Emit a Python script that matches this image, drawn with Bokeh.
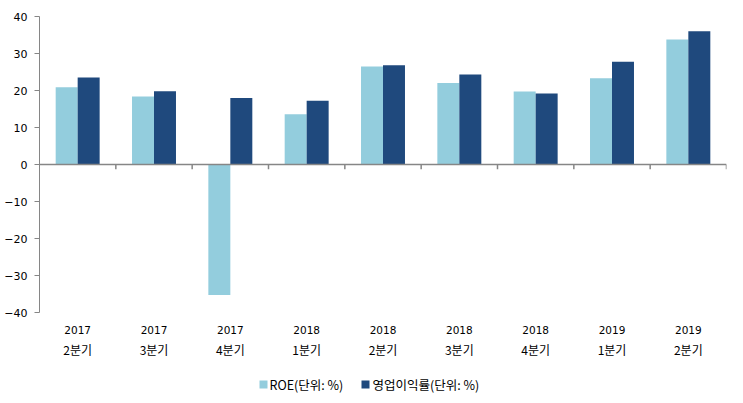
from bokeh.plotting import figure
from bokeh.models import (Range1d, ColumnDataSource, LinearAxis,
                          Span, FixedTicker)
from bokeh.layouts import column
from bokeh.core.properties import value
from bokeh.embed import file_html
from bokeh.resources import INLINE

years = ["2017", "2017", "2017", "2018", "2018", "2018", "2018", "2019", "2019"]
quarters = ["2분기", "3분기", "4분기", "1분기", "2분기", "3분기", "4분기", "1분기", "2분기"]
roe = [20.9, 18.4, -35.3, 13.6, 26.5, 22.0, 19.7, 23.3, 33.8]
opm = [23.5, 19.8, 18.0, 17.2, 26.8, 24.3, 19.2, 27.8, 36.0]
y_ticks = [-40, -30, -20, -10, 0, 10, 20, 30, 40]
legend_labels = ["ROE(단위: %)", "영업이익률(단위: %)"]

n = len(years)
centers = [i + 0.5 for i in range(n)]
src = ColumnDataSource(dict(
    x_roe=[c - 0.144 for c in centers], x_opm=[c + 0.144 for c in centers],
    roe=roe, opm=opm))

LIGHT = "#93CDDD"
DARK = "#1F497D"
GRAY = "#868686"
NUM_FONT = "DejaVu Sans, 'Noto Sans CJK KR'"
KR_FONT = "'Noto Sans CJK KR', DejaVu Sans"

W = 727
FL, FR = 39, 726  # frame left/right in pixels
p = figure(width=W, height=360, output_backend="svg", toolbar_location=None,
           x_range=Range1d(0, n), y_range=Range1d(-40, 40),
           min_border_left=FL, min_border_right=W - FR, min_border_top=16,
           min_border_bottom=47, x_axis_location=None)
p.outline_line_color = None
p.xgrid.visible = False
p.ygrid.visible = False
p.background_fill_color = "white"
p.border_fill_color = "white"

r1 = p.vbar(x="x_roe", top="roe", width=0.288, source=src, color=LIGHT, line_color=None)
r2 = p.vbar(x="x_opm", top="opm", width=0.288, source=src, color=DARK, line_color=None)

# zero line with category boundary ticks
p.add_layout(Span(location=0, dimension="width", line_color=GRAY, line_width=1.5))
bounds = list(range(1, n + 1))
p.segment(x0=bounds, x1=bounds, y0=[0] * n, y1=[-1.3] * n,
          line_color=GRAY, line_width=1.5)

# y axis
ya = p.yaxis[0]
ya.ticker = FixedTicker(ticks=y_ticks)
ya.axis_line_color = GRAY
ya.major_tick_line_color = GRAY
ya.major_tick_out = 5
ya.major_tick_in = 0
ya.minor_tick_line_color = None
ya.major_label_text_font = NUM_FONT
ya.major_label_text_font_size = "11px"
ya.major_label_text_color = "black"
ya.major_label_standoff = 7

def make_axis(labels, standoff, font, size):
    ax = LinearAxis(ticker=FixedTicker(ticks=centers))
    ax.axis_line_color = None
    ax.major_tick_line_color = None
    ax.minor_tick_line_color = None
    ax.major_label_standoff = standoff
    ax.major_label_text_font = font
    ax.major_label_text_font_size = size
    ax.major_label_text_color = "black"
    ax.major_label_overrides = {c: l for c, l in zip(centers, labels)}
    return ax

p.add_layout(make_axis(years, 7, NUM_FONT, "10.5px"), "below")
p.add_layout(make_axis(quarters, -2, KR_FONT, "12px"), "below")

# legend strip (x in pixel units of the aligned frame)
LH = 35
lg = figure(width=W, height=LH, output_backend="svg", toolbar_location=None,
            x_range=Range1d(FL, FR), y_range=Range1d(0, LH),
            min_border_left=FL, min_border_right=W - FR, min_border_top=0,
            min_border_bottom=0, x_axis_location=None, y_axis_location=None)
lg.outline_line_color = None
lg.xgrid.visible = False
lg.ygrid.visible = False
lg.border_fill_color = "white"
sw_x = [263, 365]
lsrc = ColumnDataSource(dict(x=sw_x, y=[11, 11], c=[LIGHT, DARK],
                             tx=[269, 372], label=legend_labels))
lg.rect(x="x", y="y", width=8, height=8, width_units="screen", height_units="screen",
        fill_color="c", line_color=None, source=lsrc)
lg.text(x="tx", y="y", text="label", source=lsrc, text_font=value("Noto Sans CJK KR"),
        text_font_size="12.5px", text_baseline="middle", text_align="left",
        text_color="black")

open("out.html", "w").write(file_html(column(p, lg, spacing=0), INLINE))
